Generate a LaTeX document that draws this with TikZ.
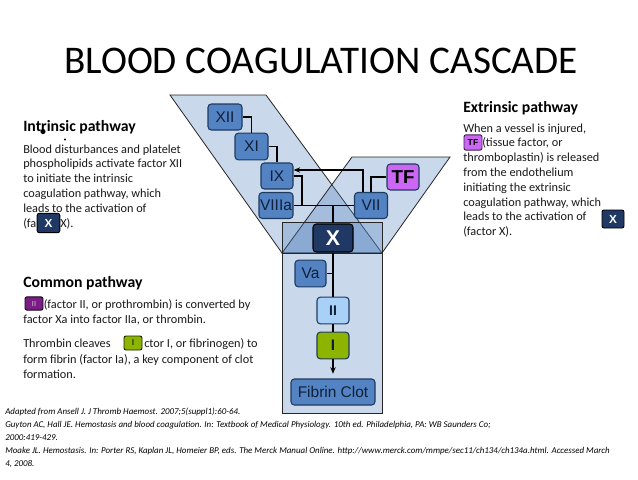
\documentclass[tikz,border=0pt]{standalone}
\usepackage{fontspec}
\setmainfont{Carlito}
\newfontfamily\arialf{Liberation Sans}
\usetikzlibrary{arrows.meta}
\definecolor{bandblue}{HTML}{4F81BD}
\definecolor{nodeblue}{HTML}{5383C3}
\definecolor{facborder}{HTML}{1F3A5F}
\definecolor{factext}{HTML}{10203A}
\definecolor{xnavy}{HTML}{1F3864}
\definecolor{tfpurple}{HTML}{CC66F5}
\definecolor{iilight}{HTML}{A9D1F8}
\definecolor{igreen}{HTML}{8CB400}
\definecolor{iipurple}{HTML}{7A1E86}
\begin{document}
\begin{tikzpicture}[x=0.75pt,y=-0.75pt,
  band/.style={fill=bandblue,fill opacity=0.3,draw=black!85,line width=0.6pt},
  fac/.style={draw=facborder,fill=nodeblue,rounded corners=2.5pt,line width=0.8pt,inner sep=0pt,
    font=\arialf\fontsize{11.6}{12}\selectfont,text=factext},
  conn/.style={draw=black,line width=1pt},
  body/.style={anchor=base west,inner sep=0pt,font=\fontsize{9.2}{11}\selectfont,text=black!90},
  head/.style={anchor=base west,inner sep=0pt,font=\bfseries\fontsize{11.8}{13}\selectfont,text=black},
  foot/.style={anchor=base west,inner sep=0pt,font=\itshape\fontsize{6.7}{8}\selectfont,text=black},
  chip/.style={rounded corners=1.5pt,line width=0.7pt,inner sep=0pt,font=\arialf\bfseries\fontsize{6.5}{7}\selectfont}
]
\useasboundingbox (0,0) rectangle (638,479);
\fill[white] (0,0) rectangle (638,479);

% pathway bands
\path[band] (170,95) -- (266,95) -- (382,253) -- (282,253) -- cycle;
\path[band] (352,157) -- (450,157) -- (382,253) -- (282,253) -- cycle;
\path[band] (282,222) rectangle (382,253);
\path[band] (282,253) rectangle (382,413);

% factor nodes
\node[fac,minimum width=25.5pt,minimum height=19.5pt] (XII) at (225,117) {XII};
\node[fac,minimum width=24.75pt,minimum height=20pt] (XI) at (251.5,146.5) {XI};
\node[fac,minimum width=24pt,minimum height=19.5pt] (IX) at (277,176) {IX};
\node[fac,minimum width=25.5pt,minimum height=19.5pt] (VIIIa) at (276,205.5) {VIIIa};
\node[fac,minimum width=24.75pt,minimum height=19.5pt] (VII) at (371,205.5) {VII};
\node[fac,fill=tfpurple,minimum width=24pt,minimum height=19.5pt,text=black,
      font=\arialf\bfseries\fontsize{14}{14}\selectfont] (TF) at (403,177) {TF};
\node[fac,fill=xnavy,draw=black,minimum width=30pt,minimum height=21pt,text=white,
      font=\arialf\bfseries\fontsize{16}{16}\selectfont] (X) at (333,238) {X};
\node[fac,minimum width=23.25pt,minimum height=20pt] (Va) at (310.5,273.5) {Va};
\node[fac,fill=iilight,minimum width=24pt,minimum height=20pt,
      font=\arialf\bfseries\fontsize{10.5}{11}\selectfont] (II) at (333,310.5) {II};
\node[fac,fill=igreen,minimum width=24pt,minimum height=20pt,
      font=\arialf\bfseries\fontsize{11.5}{12}\selectfont] (I) at (333,345.5) {I};
\node[fac,minimum width=63pt,minimum height=19.5pt] (Fib) at (333,392) {Fibrin Clot};

% connectors
\coordinate (jA) at (302,205.5);
\coordinate (jB) at (333,205.5);
\draw[conn] (XII.east) -| (XI.north);
\draw[conn] (XI.east) -| (IX.north);
\draw[conn] (IX.east) -| (jA);
\draw[conn] (VIIIa.east) -- (VII.west);
\draw[conn] (jB) -- (X.north);
\draw[conn,-{Stealth[length=5pt,width=4pt]}] ([xshift=-6pt]VII.north) |- ([yshift=4.5pt]IX.east);
\draw[conn] (TF.west) -| (VII.north);
\draw[conn] (X.south) -- (II.north);
\draw[conn] (Va.east) -- (Va.east -| X.south);
\draw[conn] (II.south) -- (I.north);
\draw[conn,-{Stealth[length=5pt,width=4pt]},shorten >=3.5pt] (I.south) -- (Fib.north);

% title
\node[anchor=base,inner sep=0pt,font=\fontsize{29.4}{30}\selectfont] (title) at (321,73) {BLOOD COAGULATION CASCADE};

% intrinsic text
\node[head] (ih) at (23,131) {Intrinsic pathway};
\fill[black] (43,131.5) circle (2.6);
\fill[black] (65,139.5) circle (1.1);
\node[body] (i1) at (23,153) {Blood disturbances and platelet};
\node[body] (i2) at (23,167.8) {phospholipids activate factor XII};
\node[body] (i3) at (23,182.6) {to initiate the intrinsic};
\node[body] (i4) at (23,197.4) {coagulation pathway, which};
\node[body] (i5) at (23,212.2) {leads to the activation of};
\node[body] (i6a) at (23,227) {(fa};
\node[body] (i6b) at (60,227) {X).};
\node[chip,draw=black,fill=xnavy,text=white,minimum width=17pt,minimum height=14.5pt,
      font=\arialf\bfseries\fontsize{8.8}{9}\selectfont] (xi) at (48.5,223) {X};

% extrinsic text
\node[head] (eh) at (463,112) {Extrinsic pathway};
\node[body] (e1) at (463,132) {When a vessel is injured,};
\node[body] (e2) at (482,146.8) {(tissue factor, or};
\node[chip,draw=black!70!tfpurple,fill=tfpurple,text=black,minimum width=13.5pt,minimum height=11.5pt] (tfi) at (473,142.5) {TF};
\node[body] (e3) at (463,161.6) {thromboplastin) is released};
\node[body] (e4) at (463,176.4) {from the endothelium};
\node[body] (e5) at (463,191.2) {initiating the extrinsic};
\node[body] (e6) at (463,206) {coagulation pathway, which};
\node[body] (e7) at (463,220.8) {leads to the activation of};
\node[body] (e8) at (463,235.6) {(factor X).};
\node[chip,draw=black,fill=xnavy,text=white,minimum width=16.5pt,minimum height=13.5pt,
      font=\arialf\bfseries\fontsize{8.8}{9}\selectfont] (xe) at (613,219) {X};

% common pathway text
\node[head] (ch) at (23,287) {Common pathway};
\node[chip,draw=black!80!iipurple,fill=iipurple,text=white!75!iipurple,minimum width=13.5pt,minimum height=10pt,
      font=\arialf\fontsize{5.5}{6}\selectfont] (iic) at (34,303.5) {II};
\node[body] (c1) at (43.5,308) {(factor II, or prothrombin) is converted by};
\node[body] (c2) at (23,323.5) {factor Xa into factor IIa, or thrombin.};
\node[body] (c3a) at (23,347.5) {Thrombin cleaves};
\node[chip,draw=black!80!igreen,fill=igreen,text=black,minimum width=13.5pt,minimum height=10.5pt,
      font=\arialf\fontsize{6.5}{7}\selectfont] (ic) at (133,343) {I};
\node[body] (c3b) at (144,347.5) {ctor I, or fibrinogen) to};
\node[body] (c4) at (23,363) {form fibrin (factor Ia), a key component of clot};
\node[body] (c5) at (23,378.5) {formation.};

% references
\node[foot] (r1) at (5,414) {Adapted from Ansell J. J Thromb Haemost. 2007;5(suppl1):60-64.};
\node[foot] (r2) at (5,427) {Guyton AC, Hall JE. Hemostasis and blood coagulation. In: Textbook of Medical Physiology. 10th ed. Philadelphia, PA: WB Saunders Co;};
\node[foot] (r3) at (5,440) {2000:419-429.};
\node[foot] (r4) at (5,453) {Moake JL. Hemostasis. In: Porter RS, Kaplan JL, Homeier BP, eds. The Merck Manual Online. http://www.merck.com/mmpe/sec11/ch134/ch134a.html. Accessed March};
\node[foot] (r5) at (5,466) {4, 2008.};
\end{tikzpicture}
\end{document}
